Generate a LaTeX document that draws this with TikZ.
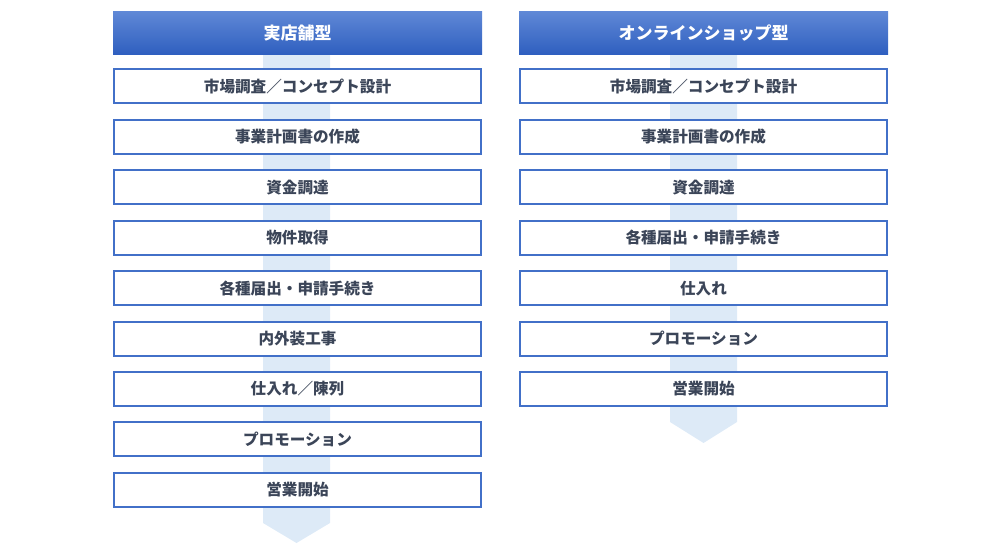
\documentclass[tikz,border=0pt]{standalone}
\usepackage{fontspec}
\newfontfamily\jpfont{Noto Sans CJK JP}
\usepackage{tikz}
\usetikzlibrary{shapes,arrows}
\definecolor{headtop}{HTML}{5F88D6}
\definecolor{headbot}{HTML}{2E5EBF}
\definecolor{boxline}{HTML}{4270C8}
\definecolor{flowbg}{HTML}{DDEAF7}
\definecolor{steptext}{HTML}{3B4558}
\tikzset{
	head/.style     = {rectangle, top color = headtop, bottom color = headbot,
		minimum width = 369, minimum height = 43, inner sep = 0pt,
		text = white, font = \jpfont\bfseries\fontsize{17}{19}\selectfont},
	stepbox/.style  = {draw = boxline, line width = 2pt, fill = white, rectangle,
		minimum width = 367, minimum height = 34, inner sep = 0pt,
		text = steptext, font = \jpfont\bfseries\fontsize{15.6}{18}\selectfont},
	flow/.style     = {fill = flowbg, draw = none}
}

\begin{document}
\begin{tikzpicture}[x=1pt, y=-1pt]
	\useasboundingbox (0,0) rectangle (1000,559);
	% background arrows
	\fill[flow] (263,55) -- (330,55) -- (330,523) -- (296.5,543) -- (263,523) -- cycle;
	\fill[flow] (670,55) -- (737,55) -- (737,422) -- (703.5,443) -- (670,422) -- cycle;

	% shop type
	\draw
	node at (297.5,33.5)[head] (h1) {実店舗型}
	node at (297.5,86.5)[stepbox] (a1) {市場調査／コンセプト設計}
	node at (297.5,136.9)[stepbox] (a2) {事業計画書の作成}
	node at (297.5,187.3)[stepbox] (a3) {資金調達}
	node at (297.5,237.7)[stepbox] (a4) {物件取得}
	node at (297.5,288.1)[stepbox] (a5) {各種届出・申請手続き}
	node at (297.5,338.5)[stepbox] (a6) {内外装工事}
	node at (297.5,388.9)[stepbox] (a7) {仕入れ／陳列}
	node at (297.5,439.3)[stepbox] (a8) {プロモーション}
	node at (297.5,489.7)[stepbox] (a9) {営業開始};

	% online type
	\draw
	node at (703.5,33.5)[head] (h2) {オンラインショップ型}
	node at (703.5,86.5)[stepbox] (b1) {市場調査／コンセプト設計}
	node at (703.5,136.9)[stepbox] (b2) {事業計画書の作成}
	node at (703.5,187.3)[stepbox] (b3) {資金調達}
	node at (703.5,237.7)[stepbox] (b4) {各種届出・申請手続き}
	node at (703.5,288.1)[stepbox] (b5) {仕入れ}
	node at (703.5,338.5)[stepbox] (b6) {プロモーション}
	node at (703.5,388.9)[stepbox] (b7) {営業開始};
\end{tikzpicture}
\end{document}
